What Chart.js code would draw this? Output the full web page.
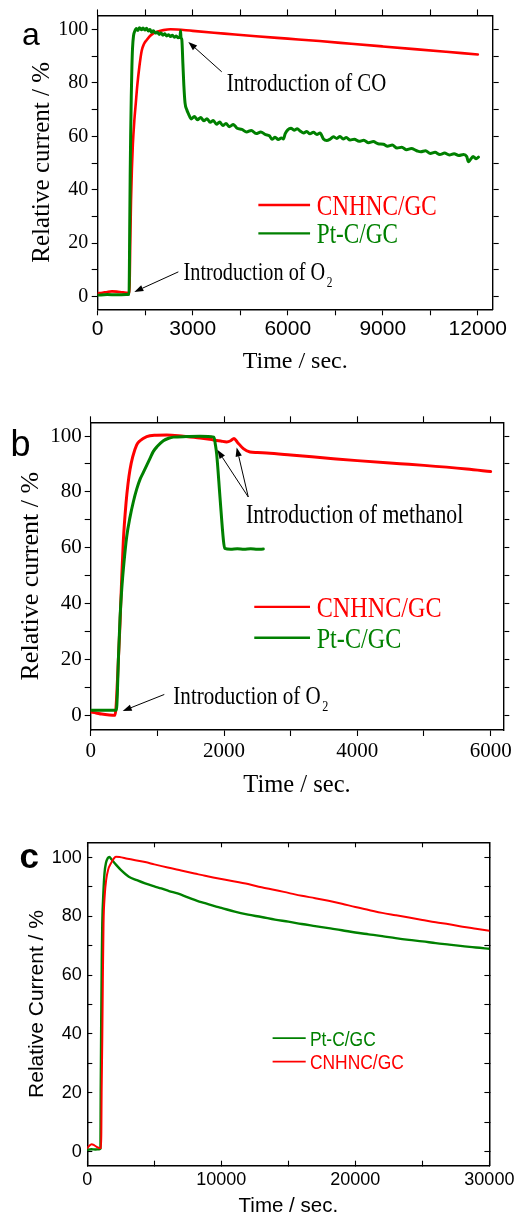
<!DOCTYPE html>
<html><head><meta charset="utf-8">
<script src="https://cdn.jsdelivr.net/npm/chart.js@4.4.1/dist/chart.umd.min.js"></script>
<style>
html,body{margin:0;padding:0;background:#fff;}
body{width:523px;height:1216px;position:relative;overflow:hidden;}
canvas{position:absolute;left:0;}
</style></head><body>
<canvas id="ca" width="523" height="390" style="top:0;width:523px;height:390px"></canvas>
<canvas id="cb" width="523" height="410" style="top:390px;width:523px;height:410px"></canvas>
<canvas id="cc" width="523" height="416" style="top:800px;width:523px;height:416px"></canvas>
<script>
// ---------- DATA ----------
const seriesNames = ['CNHNC/GC', 'Pt-C/GC'];

// Panel a
const aTimeCNHNC = [0,150,300,450,600,750,900,990,1010,1025,1040,1052,1080,1110,1157,1200,1250,1315,1389,1460,1547,1650,1757,1900,2073,2300,3000,4000,5000,6000,7000,8000,9000,10000,11000,12000];
const aCurrCNHNC = [1.3,1.5,1.8,2.0,1.9,1.7,1.5,1.4,6,18,28,36,48,57,66,72,79,86,92,94.5,96,97.5,98.5,99.2,99.7,100,99.4,98.4,97.4,96.5,95.6,94.6,93.6,92.6,91.6,90.6];
const aTimePtC = [0,300,600,900,990,1000,1010,1025,1040,1060,1080,1100,1130,1170,1220,1270,1320,1380,1430,1490,1540,1600,1650,1700,1760,1820,1880,1940,2000,2060,2120,2180,2240,2300,2360,2420,2480,2540,2600,2615,2630,2655,2690,2720,2757,2810,2870,2950,3050,3150,3250,3350,3450,3550,3650,3750,3850,3950,4050,4150,4283,4400,4550,4700,4850,5000,5150,5300,5420,5500,5600,5700,5800,5862,5920,6000,6100,6200,6300,6389,6500,6600,6700,6810,6920,7020,7126,7230,7336,7441,7550,7650,7750,7850,7967,8100,8250,8400,8550,8700,8850,9020,9150,9300,9450,9600,9750,9900,10073,10200,10350,10500,10650,10800,10950,11100,11250,11400,11550,11650,11705,11760,11850,11950,12020];
const aCurrPtC = [0.6,0.8,0.7,0.8,0.9,10,25,45,60,75,86,93,97.5,99.3,100.3,99.6,100.6,99.8,100.5,99.7,100.4,99.4,99.9,98.9,99.5,98.6,98.9,98.1,98.6,97.8,98.3,97.5,98.0,97.3,97.8,97.0,97.5,96.8,97.2,99.5,96.8,96.2,87,79,72.5,70.0,68.3,66.5,67.4,66.2,67.0,65.8,66.6,65.2,65.9,64.5,65.3,64.0,64.8,63.6,64.4,63.0,62.6,61.6,62.2,61.0,61.6,60.6,60.2,58.9,59.6,58.8,59.4,59.0,61.0,62.4,63.0,62.3,62.8,62.0,61.2,61.8,60.9,61.5,60.7,61.2,59.0,58.4,58.9,59.8,59.2,59.9,59.0,59.5,58.6,58.9,58.1,58.5,57.6,58.0,57.2,57.0,56.3,56.7,55.6,55.9,55.0,55.4,54.6,54.2,54.6,53.6,54.0,53.2,53.7,53.0,53.5,52.8,53.2,52.4,50.5,51.2,52.4,51.6,52.2];
const aXTicks = [0,1500,3000,4500,6000,7500,9000,10500,12000];
const aXTickLabels = ['0','','3000','','6000','','9000','','12000'];

// Panel b
const bTimeCNHNC = [0,80,165,280,365,380,400,415,440,465,490,530,560,590,630,690,740,840,990,1140,1390,1640,1840,1950,2040,2100,2150,2200,2290,2390,2500,2640,3000,3640,4000,4640,5000,5640,6000];
const bCurrCNHNC = [1.3,1.0,0.6,0.3,0.2,3,12,20,33,49,62.7,76,83,88,92.5,96.8,98.3,99.8,100.3,100.4,99.9,99.3,98.6,98.2,97.9,98.3,99.1,97.8,95.5,94.3,94.1,93.9,93.2,91.9,91.2,90.1,89.5,88.2,87.3];
const bTimePtC = [0,200,385,400,415,440,465,500,540,590,640,690,740,790,840,890,940,1000,1090,1170,1240,1440,1640,1850,1870,1890,1940,1990,2010,2100,2200,2300,2400,2500,2590];
const bCurrPtC = [2.0,2.0,2.0,8,20,35,45,55,64,71,76.5,81,84.5,87,89.5,92,94.5,96.3,98.3,99.2,99.6,99.8,99.9,99.6,97,93.5,78,63,59.8,59.5,59.7,59.5,59.7,59.5,59.6];
const bXTicks = [0,1000,2000,3000,4000,5000,6000];
const bXTickLabels = ['0','','2000','','4000','','6000'];

// Panel c
const cTimeCNHNC = [0,150,320,500,700,900,1030,1050,1070,1118,1160,1213,1300,1409,1550,1772,1950,2135,2400,3000,4313,5000,6000,7000,8000,8787,10000,11000,12000,13000,14000,15000,16000,17000,18000,19000,20000,21000,22000,23000,24000,25000,26000,27000,28000,29000,30000];
const cCurrCNHNC = [1.2,2.0,2.5,2.2,1.6,1.2,1.2,8,20,38,58,77.7,87,92.4,95.8,98.1,99.5,100.3,100.2,99.6,98.5,97.7,96.6,95.6,94.6,93.8,92.7,91.9,91.0,89.9,89.0,88.0,87.0,86.2,85.3,84.3,83.2,82.2,81.2,80.4,79.6,78.8,78.0,77.3,76.5,75.8,75.1];
const cTimePtC = [0,300,600,900,980,1000,1040,1080,1118,1200,1285,1400,1525,1650,1800,2000,2135,2500,3100,3700,4313,5000,5520,6100,6732,7500,8200,8787,9500,10000,11000,12000,13000,14000,15000,16000,17000,18000,19000,20000,21000,22000,23000,24000,25000,26000,27000,28000,29000,30000];
const cCurrPtC = [0.6,0.8,0.7,0.8,1.0,20,45,65,77.7,88,94.7,98.3,99.8,100.2,99.4,98.3,97.6,95.8,93.5,92.3,91.2,90.2,89.5,88.6,87.8,86.5,85.3,84.5,83.5,82.9,81.6,80.6,79.8,78.9,78.2,77.4,76.7,76.0,75.3,74.5,73.9,73.3,72.6,72.0,71.5,70.9,70.4,69.9,69.4,69.0];
const cXTicks = [0,5000,10000,15000,20000,25000,30000];
const cXTickLabels = ['0','','10000','','20000','','30000'];

// shared y ticks
const yTicks = [0,10,20,30,40,50,60,70,80,90,100];
const yTickLabels = ['0','','20','','40','','60','','80','','100'];

// ---------- HELPERS ----------
const RED = '#ff0000', GREEN = '#008000';
const SERIF = 'Liberation Serif', SANS = 'Liberation Sans';
function pairs(ts, vs) { return ts.map((t, i) => ({x: t, y: vs[i]})); }
function fixedTicks(values) { return axis => { axis.ticks = values.map(v => ({value: v})); }; }

function buildScales(o) {
  const grid = {display: true, drawOnChartArea: false, drawTicks: true, tickLength: o.tickLen, tickColor: '#000', tickWidth: 1.1};
  const border = {display: true, color: '#000', width: o.borderWidth};
  return {
    x: {type: 'linear', position: 'bottom', min: o.xMin, max: o.xMax, grid, border,
      afterBuildTicks: fixedTicks(o.xTicks), afterFit: s => { s.height = o.xHeight; },
      ticks: {autoSkip: false, maxRotation: 0, minRotation: 0, color: '#000', font: o.xFont, padding: o.xPad,
        callback: (v, i) => o.xLabels[i]},
      title: {display: true, text: 'Time / sec.', color: '#000', font: o.xTitleFont, padding: {top: 0, bottom: o.xTitlePad}}},
    y: {type: 'linear', position: 'left', min: o.yMin, max: o.yMax, grid, border,
      afterBuildTicks: fixedTicks(yTicks), afterFit: s => { s.width = o.yWidth; },
      ticks: {autoSkip: false, color: '#000', font: o.yFont, padding: o.yPad, callback: (v, i) => yTickLabels[i]},
      title: {display: true, text: o.yTitle, color: '#000', font: o.yTitleFont, padding: {top: o.yTitlePad, bottom: 0}}},
    x2: {type: 'linear', position: 'top', min: o.xMin, max: o.xMax, grid, border,
      afterBuildTicks: fixedTicks(o.xTicks), afterFit: s => { s.height = 0; }, ticks: {display: false}},
    y2: {type: 'linear', position: 'right', min: o.yMin, max: o.yMax, grid, border,
      afterBuildTicks: fixedTicks(yTicks), afterFit: s => { s.width = 0; }, ticks: {display: false}}
  };
}

function drawText(ctx, str, x, y, font, color, sx) {
  ctx.save();
  ctx.font = font; ctx.fillStyle = color; ctx.textAlign = 'left'; ctx.textBaseline = 'alphabetic';
  ctx.translate(x, y); ctx.scale(sx, 1); ctx.fillText(str, 0, 0);
  const w = ctx.measureText(str).width * sx;
  ctx.restore();
  return w;
}
function drawArrow(ctx, x0, y0, x1, y1) {
  const a = Math.atan2(y1 - y0, x1 - x0), L = 9, W = 3.2;
  const bx = x1 - L * Math.cos(a), by = y1 - L * Math.sin(a);
  ctx.save();
  ctx.strokeStyle = '#000'; ctx.lineWidth = 1;
  ctx.beginPath(); ctx.moveTo(x0, y0); ctx.lineTo(bx, by); ctx.stroke();
  ctx.fillStyle = '#000'; ctx.beginPath(); ctx.moveTo(x1, y1);
  ctx.lineTo(bx + W * Math.sin(a), by - W * Math.cos(a));
  ctx.lineTo(bx - W * Math.sin(a), by + W * Math.cos(a));
  ctx.closePath(); ctx.fill();
  ctx.restore();
}

function overlay(spec) {
  return {
    id: 'overlay',
    afterDatasetsDraw(chart) {
      const ctx = chart.ctx, xs = chart.scales.x, ys = chart.scales.y;
      const X = t => xs.getPixelForValue(t), Y = v => ys.getPixelForValue(v);
      const L = spec.letter;
      drawText(ctx, L.text, L.x, L.y, L.font, '#000', 1);
      (spec.arrows || []).forEach(a => drawArrow(ctx, X(a[0]), Y(a[1]), X(a[2]), Y(a[3])));
      (spec.notes || []).forEach(n => {
        const x = X(n.t), y = Y(n.v);
        const w = drawText(ctx, n.text, x, y, `${n.size}px "${n.family}"`, '#000', n.sx);
        if (n.sub) drawText(ctx, n.sub, x + w + 1.5, y + n.size * 0.26, `${Math.round(n.size * 0.58)}px "${n.family}"`, '#000', n.sx);
      });
      const g = spec.legend;
      g.items.forEach(it => {
        const y = Y(it.v);
        ctx.save();
        ctx.strokeStyle = it.color; ctx.lineWidth = g.lineWidth;
        ctx.beginPath(); ctx.moveTo(X(g.t0), y); ctx.lineTo(X(g.t1), y); ctx.stroke();
        ctx.restore();
        drawText(ctx, it.name, X(g.tText), y + g.capMid * g.size, `${g.size}px "${g.family}"`, it.color, g.sx);
      });
    }
  };
}

function makeChart(id, datasets, scaleOpts, padding, spec) {
  return new Chart(document.getElementById(id), {
    type: 'line',
    data: {datasets},
    options: {
      responsive: false, animation: false, devicePixelRatio: 1, events: [],
      layout: {padding},
      elements: {point: {radius: 0, hoverRadius: 0}, line: {cubicInterpolationMode: 'monotone', borderJoinStyle: 'round', borderCapStyle: 'round'}},
      plugins: {legend: {display: false}, tooltip: {enabled: false}},
      scales: buildScales(scaleOpts)
    },
    plugins: [overlay(spec)]
  });
}
function ds(label, data, color, width) {
  return {label, data, borderColor: color, backgroundColor: color, borderWidth: width, fill: false, pointRadius: 0};
}

// ---------- PANEL A ----------
makeChart('ca', [
  ds(seriesNames[1], pairs(aTimePtC, aCurrPtC), GREEN, 3),
  ds(seriesNames[0], pairs(aTimeCNHNC, aCurrCNHNC), RED, 2.6)
], {
  xMin: 0, xMax: 12470, yMin: -4.7, yMax: 105.2, xTicks: aXTicks, xLabels: aXTickLabels,
  tickLen: 6, borderWidth: 1.4,
  xFont: {family: SANS, size: 21}, xPad: 1.3, xHeight: 80.7,
  yFont: {family: SERIF, size: 20}, yPad: 3.4, yWidth: 97.7,
  xTitleFont: {family: SERIF, size: 24, lineHeight: 1}, xTitlePad: 16,
  yTitle: 'Relative current / %', yTitleFont: {family: SERIF, size: 25, lineHeight: 1}, yTitlePad: 30
}, {left: 0, right: 30.3, top: 15, bottom: 0}, {
  letter: {text: 'a', x: 22, y: 45, font: `32px "${SANS}"`},
  arrows: [[3916, 84.1, 2861, 95.3], [2546, 9.3, 1156, 1.8]],
  notes: [
    {t: 4074, v: 76.9, text: 'Introduction of CO', family: SERIF, size: 26, sx: 0.8},
    {t: 2709, v: 6.2, text: 'Introduction of O', sub: '2', family: SERIF, size: 25, sx: 0.81}
  ],
  legend: {t0: 5072, t1: 6704, tText: 6916, family: SERIF, size: 29, sx: 0.8, capMid: 0.331, lineWidth: 2.4,
    items: [{v: 34.3, name: seriesNames[0], color: RED}, {v: 23.7, name: seriesNames[1], color: GREEN}]}
});

// ---------- PANEL B ----------
makeChart('cb', [
  ds(seriesNames[1], pairs(bTimePtC, bCurrPtC), GREEN, 3),
  ds(seriesNames[0], pairs(bTimeCNHNC, bCurrCNHNC), RED, 3)
], {
  xMin: 0, xMax: 6190, yMin: -5.1, yMax: 104.9, xTicks: bXTicks, xLabels: bXTickLabels,
  tickLen: 6, borderWidth: 1.4,
  xFont: {family: SERIF, size: 21}, xPad: 3.1, xHeight: 70,
  yFont: {family: SERIF, size: 21}, yPad: 3, yWidth: 90.7,
  xTitleFont: {family: SERIF, size: 24.5, lineHeight: 1}, xTitlePad: 2,
  yTitle: 'Relative current / %', yTitleFont: {family: SERIF, size: 26, lineHeight: 1}, yTitlePad: 18
}, {left: 0, right: 19.7, top: 32.3, bottom: 0}, {
  letter: {text: 'b', x: 10.5, y: 65.7, font: `36px "${SANS}"`},
  arrows: [[2364, 78.2, 1900, 95.1], [2364, 78.2, 2190, 95.9], [1104, 7.6, 480, 1.7]],
  notes: [
    {t: 2330, v: 68.9, text: 'Introduction of methanol', family: SERIF, size: 26.5, sx: 0.82},
    {t: 1240, v: 4.2, text: 'Introduction of O', sub: '2', family: SERIF, size: 26, sx: 0.81}
  ],
  legend: {t0: 2454, t1: 3290, tText: 3390, family: SERIF, size: 30, sx: 0.806, capMid: 0.331, lineWidth: 2.4,
    items: [{v: 38.9, name: seriesNames[0], color: RED}, {v: 27.9, name: seriesNames[1], color: GREEN}]}
});

// ---------- PANEL C ----------
makeChart('cc', [
  ds(seriesNames[0], pairs(cTimeCNHNC, cCurrCNHNC), RED, 2),
  ds(seriesNames[1], pairs(cTimePtC, cCurrPtC), GREEN, 2.4)
], {
  xMin: 0, xMax: 30000, yMin: -4.8, yMax: 105.2, xTicks: cXTicks, xLabels: cXTickLabels,
  tickLen: -5, borderWidth: 1.5,
  xFont: {family: SANS, size: 18}, xPad: 8.6, xHeight: 50.3,
  yFont: {family: SANS, size: 18}, yPad: 10.6, yWidth: 87.3,
  xTitleFont: {family: SANS, size: 20.5, lineHeight: 1}, xTitlePad: -1,
  yTitle: 'Relative Current / %', yTitleFont: {family: SANS, size: 21, lineHeight: 1}, yTitlePad: 27
}, {left: 0, right: 24, top: 42.3, bottom: 0}, {
  letter: {text: 'c', x: 19.5, y: 68.3, font: `bold 35px "${SANS}"`},
  arrows: [], notes: [],
  legend: {t0: 13827, t1: 16296, tText: 16609, family: SANS, size: 21, sx: 0.83, capMid: 0.358, lineWidth: 1.8,
    items: [{v: 38.6, name: seriesNames[1], color: GREEN}, {v: 30.6, name: seriesNames[0], color: RED}]}
});
</script>
</body></html>
